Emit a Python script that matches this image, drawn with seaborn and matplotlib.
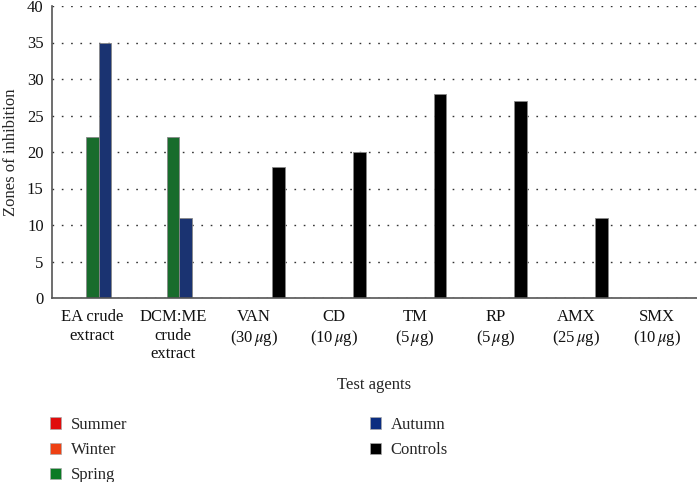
import pandas as pd
import seaborn as sns
import matplotlib.pyplot as plt
from matplotlib.patches import Patch

agents = ["EA crude\nextract", "DCM:ME\ncrude\nextract", "VAN\n(30$\\,\\mu$g)",
          "CD\n(10$\\,\\mu$g)", "TM\n(5$\\,\\mu$g)", "RP\n(5$\\,\\mu$g)",
          "AMX\n(25$\\,\\mu$g)", "SMX\n(10$\\,\\mu$g)"]
seasons = ["Summer", "Winter", "Spring", "Autumn", "Controls"]

summer = [0, 0, 0, 0, 0, 0, 0, 0]
winter = [0, 0, 0, 0, 0, 0, 0, 0]
spring = [22, 22, 0, 0, 0, 0, 0, 0]
autumn = [35, 11, 0, 0, 0, 0, 0, 0]
controls = [0, 0, 18, 20, 28, 27, 11, 0]

colors = ["#e00c0c", "#ee4114", "#0a7a24", "#0b2d80", "#000000"]

rows = []
for s, vals in zip(seasons, [summer, winter, spring, autumn, controls]):
    for a, v in zip(agents, vals):
        rows.append({"agent": a, "season": s, "zone": v})
df = pd.DataFrame(rows)
df = df[df["zone"] > 0]

sns.set_style("white")
plt.rcParams["font.family"] = ["Liberation Serif", "DejaVu Serif"]
plt.rcParams["mathtext.fontset"] = "stix"
plt.rcParams["font.size"] = 12

fig = plt.figure(figsize=(6.97, 4.82), dpi=100)
ax = fig.add_axes([52 / 697, 1 - 298 / 482, 645 / 697, 292 / 482])

sns.barplot(data=df, x="agent", y="zone", hue="season", order=agents,
            hue_order=seasons, palette=colors, width=0.78, gap=0,
            edgecolor="#888888", linewidth=0.6, legend=False, ax=ax)

ax.set_ylim(0, 40)
ax.set_xlim(-0.5, 7.5)
ax.set_yticks(range(0, 41, 5))
ax.yaxis.grid(True, linestyle=(0, (1.2, 5.5)), color="#333333", linewidth=1.0)
ax.set_axisbelow(True)
for side in ["top", "right"]:
    ax.spines[side].set_visible(False)
for side in ["left", "bottom"]:
    ax.spines[side].set_color("#555555")
    ax.spines[side].set_linewidth(1.2)
ax.tick_params(axis="both", length=0, labelsize=12, colors="#111111")
ax.tick_params(axis="y", pad=6)
ax.tick_params(axis="x", pad=8)
ax.set_ylabel("Zones of inhibition", fontsize=12, labelpad=6)
ax.set_xlabel("Test agents", fontsize=12, labelpad=11)

handles = [Patch(facecolor=c, edgecolor="#aaaaaa", linewidth=0.5) for c in colors]
fig.legend(handles, seasons, loc="upper left", bbox_to_anchor=(50 / 697, 1 - 417 / 482),
           ncol=2, frameon=False, fontsize=12, handlelength=0.68, handleheight=0.68,
           handletextpad=0.6, labelspacing=0.55, columnspacing=14.5,
           borderpad=0, borderaxespad=0)

fig.savefig("out.png", dpi=100)
